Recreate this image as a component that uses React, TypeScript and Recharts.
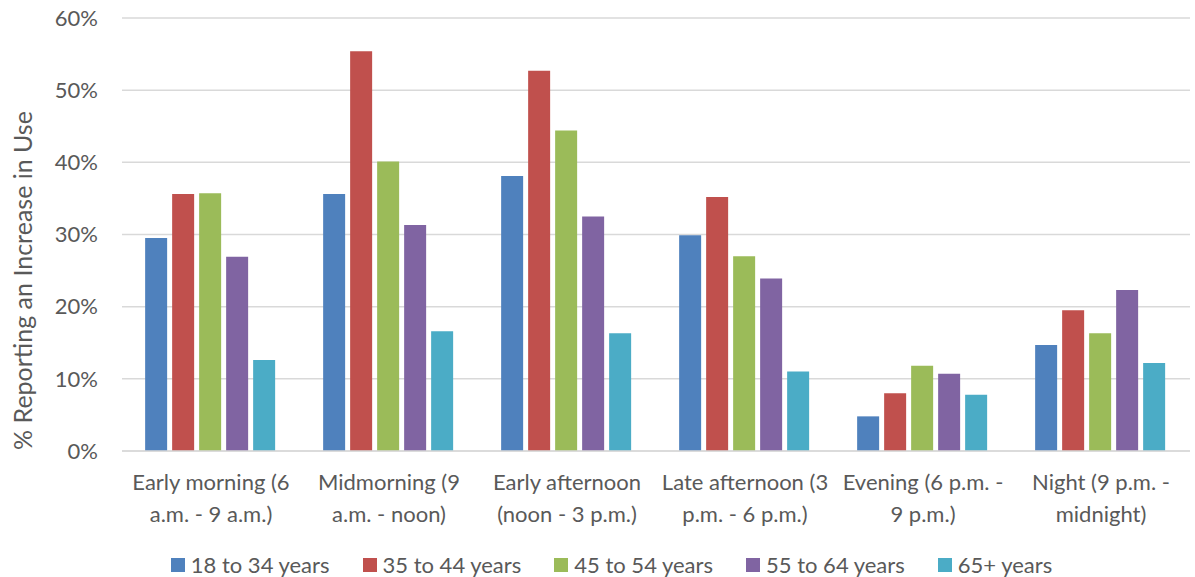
import { BarChart, Bar, XAxis, YAxis, CartesianGrid } from "recharts";

const CATEGORIES = [
  "Early morning (6 a.m. - 9 a.m.)",
  "Midmorning (9 a.m. - noon)",
  "Early afternoon (noon - 3 p.m.)",
  "Late afternoon (3 p.m. - 6 p.m.)",
  "Evening (6 p.m. - 9 p.m.)",
  "Night (9 p.m. - midnight)",
];

// two-line axis labels, split where they wrap
const CATEGORY_LINES: string[][] = [
  ["Early morning (6", "a.m. - 9 a.m.)"],
  ["Midmorning (9", "a.m. - noon)"],
  ["Early afternoon", "(noon - 3 p.m.)"],
  ["Late afternoon (3", "p.m. - 6 p.m.)"],
  ["Evening (6 p.m. -", "9 p.m.)"],
  ["Night (9 p.m. -", "midnight)"],
];

const AGE_18_34 = [29.5, 35.6, 38.1, 29.9, 4.8, 14.7];
const AGE_35_44 = [35.6, 55.4, 52.7, 35.2, 8.0, 19.5];
const AGE_45_54 = [35.7, 40.1, 44.4, 27.0, 11.8, 16.3];
const AGE_55_64 = [26.9, 31.3, 32.5, 23.9, 10.7, 22.3];
const AGE_65_UP = [12.6, 16.6, 16.3, 11.0, 7.8, 12.2];

const Y_TICKS = [0, 10, 20, 30, 40, 50, 60];

const SERIES = [
  { key: "a", name: "18 to 34 years", values: AGE_18_34, color: "#4F81BD" },
  { key: "b", name: "35 to 44 years", values: AGE_35_44, color: "#C0504D" },
  { key: "c", name: "45 to 54 years", values: AGE_45_54, color: "#9BBB59" },
  { key: "d", name: "55 to 64 years", values: AGE_55_64, color: "#8064A2" },
  { key: "e", name: "65+ years", values: AGE_65_UP, color: "#4BACC6" },
];

const data = CATEGORIES.map((name, i) => {
  const row: Record<string, string | number> = { name };
  SERIES.forEach((s) => {
    row[s.key] = s.values[i];
  });
  return row;
});

const FONT = "Lato, 'Open Sans', sans-serif";
const TEXT = "#595959";

function CategoryTick(props: any) {
  const { x, y, index } = props;
  const lines = CATEGORY_LINES[index] ?? [];
  return (
    <g>
      {lines.map((line, i) => (
        <text
          key={i}
          x={x}
          y={y + 31 + i * 32}
          textAnchor="middle"
          fill={TEXT}
          fontSize={22}
          fontFamily={FONT}
        >
          {line}
        </text>
      ))}
    </g>
  );
}

function AxisTitle(props: any) {
  const { viewBox } = props;
  const cx = viewBox.x + 22;
  const cy = viewBox.y + viewBox.height / 2 + 46;
  return (
    <text
      x={cx}
      y={cy}
      transform={`rotate(-90, ${cx}, ${cy})`}
      textAnchor="middle"
      dominantBaseline="central"
      fill={TEXT}
      fontSize={25}
      fontFamily={FONT}
    >
      % Reporting an Increase in Use
    </text>
  );
}

// legend row under the axis labels
function LegendRow() {
  return (
    <div
      style={{
        position: "absolute",
        left: 0,
        top: 550,
        width: 1195,
        height: 30,
        display: "flex",
        justifyContent: "center",
        alignItems: "center",
        gap: 33,
        paddingLeft: 28,
        boxSizing: "border-box",
        fontFamily: FONT,
        fontSize: 22,
        lineHeight: "30px",
        color: TEXT,
      }}
    >
      {SERIES.map((s) => (
        <div key={s.key} style={{ display: "flex", alignItems: "center" }}>
          <span
            style={{
              display: "inline-block",
              width: 14,
              height: 14,
              background: s.color,
              marginRight: 6,
            }}
          />
          {s.name}
        </div>
      ))}
    </div>
  );
}

export default function App() {
  return (
    <div
      style={{
        position: "relative",
        width: 1195,
        height: 577,
        background: "#fff",
      }}
    >
      <style>{`body { margin: 0; }`}</style>
      <BarChart
        width={1195}
        height={577}
        data={data}
        margin={{ top: 18, right: 5, left: 0, bottom: 40 }}
        barCategoryGap="13%"
        barGap={5}
      >
        <CartesianGrid vertical={false} stroke="#D9D9D9" strokeWidth={1.5} />
        <XAxis
          dataKey="name"
          height={86}
          axisLine={{ stroke: "#D9D9D9", strokeWidth: 1.5 }}
          tickLine={false}
          interval={0}
          tick={<CategoryTick />}
        />
        <YAxis
          width={122}
          domain={[0, 60]}
          ticks={Y_TICKS}
          axisLine={false}
          tickLine={false}
          tickSize={0}
          tickMargin={24}
          tickFormatter={(v: number) => `${v}%`}
          tick={{ fill: TEXT, fontSize: 22, fontFamily: FONT }}
          label={<AxisTitle />}
        />
        {SERIES.map((s) => (
          <Bar
            key={s.key}
            dataKey={s.key}
            name={s.name}
            fill={s.color}
            isAnimationActive={false}
          />
        ))}
      </BarChart>
      <LegendRow />
    </div>
  );
}
